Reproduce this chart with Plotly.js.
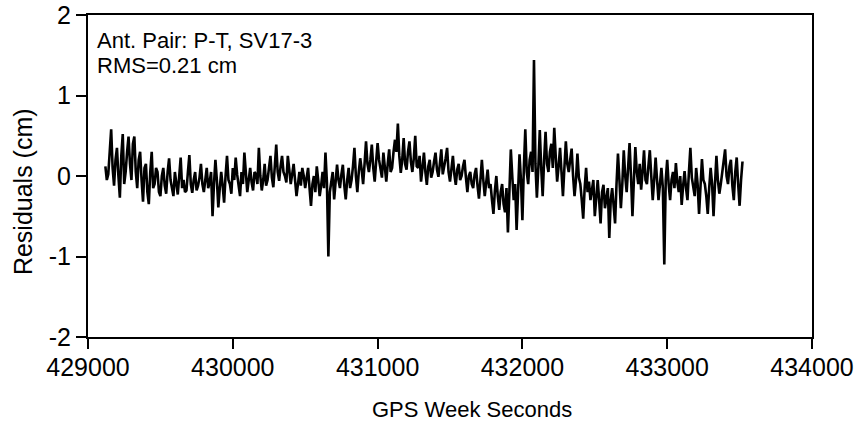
<!DOCTYPE html>
<html>
<head>
<meta charset="utf-8">
<script src="https://cdn.plot.ly/plotly-3.0.1.min.js"></script>
<style>html,body{margin:0;padding:0;background:#fff;}#chart{width:861px;height:436px;}</style>
</head>
<body>
<div id="chart"></div>
<script>
// GPS week seconds: first sample time and sample interval (s)
const T0 = 429120;
const DT = 10;
// Residuals (cm) (one row = 200 s)
const residuals = [
  0.12, -0.05, 0.02, 0.30, 0.58, 0.10, -0.12, 0.20, 0.35, 0.00, -0.27, 0.25, 0.52, -0.10, 0.05, 0.30, 0.49, 0.15, -0.05, 0.40,
  0.49, 0.05, -0.15, 0.20, 0.30, -0.05, -0.32, 0.10, 0.15, -0.20, -0.35, 0.05, 0.30, -0.15, -0.10, 0.10, 0.05, -0.20, -0.25, 0.00,
  0.10, -0.12, -0.22, 0.05, 0.22, -0.05, -0.15, -0.25, 0.05, -0.10, -0.23, 0.00, 0.23, -0.15, -0.05, -0.20, -0.18, 0.05, 0.26, -0.10,
  -0.21, -0.05, 0.05, -0.18, -0.12, -0.02, 0.15, -0.10, -0.20, -0.05, 0.10, -0.15, -0.08, 0.05, -0.50, -0.10, 0.20, -0.05, -0.39, -0.15,
  0.05, -0.12, -0.33, 0.00, 0.25, -0.05, -0.10, -0.22, 0.10, -0.05, 0.23, 0.02, -0.14, -0.25, 0.05, -0.10, 0.29, 0.00, -0.20, -0.05,
  0.10, -0.08, -0.18, 0.05, 0.02, -0.10, 0.35, 0.00, -0.18, -0.05, 0.15, -0.12, -0.05, 0.10, 0.25, -0.02, -0.14, 0.12, 0.39, 0.05,
  -0.06, 0.12, 0.25, 0.05, 0.00, -0.08, 0.25, 0.08, -0.10, 0.02, 0.15, -0.05, -0.25, -0.10, 0.05, -0.12, 0.10, 0.00, -0.15, -0.02,
  0.10, -0.15, -0.37, -0.10, 0.00, -0.20, 0.12, -0.05, -0.25, -0.12, 0.05, -0.15, 0.29, -0.08, -1.00, -0.20, -0.10, 0.05, -0.29, -0.10,
  0.14, -0.05, -0.15, 0.02, 0.14, -0.12, -0.29, -0.05, 0.10, -0.15, -0.05, 0.12, 0.35, 0.00, -0.20, 0.05, 0.22, 0.08, -0.10, 0.15,
  0.43, 0.15, 0.05, 0.20, 0.39, 0.10, -0.07, 0.18, 0.41, 0.20, 0.10, -0.02, 0.29, 0.12, -0.07, 0.15, 0.33, 0.05, 0.10, 0.30,
  0.45, 0.30, 0.65, 0.25, 0.04, 0.20, 0.47, 0.15, 0.08, 0.30, 0.43, 0.18, 0.05, 0.22, 0.50, 0.12, 0.10, 0.25, -0.07, 0.10,
  0.29, 0.05, -0.11, 0.12, 0.20, -0.02, 0.05, 0.18, 0.29, 0.08, -0.01, 0.15, 0.33, 0.02, 0.10, 0.22, 0.35, 0.05, -0.07, 0.10,
  0.25, 0.02, -0.11, 0.08, 0.15, -0.05, 0.00, 0.12, 0.20, -0.02, -0.20, 0.00, 0.05, -0.10, -0.15, 0.02, 0.10, -0.12, -0.28, -0.05,
  0.20, -0.05, -0.25, -0.08, 0.08, -0.15, -0.10, -0.30, -0.47, -0.18, 0.00, -0.25, -0.42, -0.20, -0.10, -0.35, -0.45, -0.15, -0.70, -0.20,
  0.33, 0.00, -0.30, -0.10, -0.67, -0.20, 0.27, -0.05, -0.55, 0.10, 0.58, 0.05, -0.10, 0.20, 0.30, 0.05, 1.44, 0.15, -0.27, 0.10,
  0.57, 0.10, -0.25, 0.20, 0.55, 0.15, 0.05, 0.30, 0.40, 0.10, 0.60, 0.25, -0.07, 0.12, 0.35, 0.05, -0.25, 0.10, 0.43, 0.15,
  0.05, 0.20, 0.34, 0.00, -0.25, -0.05, 0.28, -0.02, -0.10, -0.30, -0.53, -0.15, 0.10, -0.20, -0.07, -0.30, -0.20, -0.05, -0.50, -0.22,
  -0.05, -0.30, -0.59, -0.20, -0.11, -0.40, -0.30, -0.15, -0.77, -0.30, -0.15, -0.40, -0.59, -0.10, 0.28, -0.05, -0.40, -0.10, 0.32, 0.00,
  -0.20, 0.10, 0.41, 0.00, -0.50, -0.05, 0.36, 0.05, -0.10, 0.15, -0.17, 0.05, 0.32, -0.05, -0.10, 0.12, 0.32, 0.00, -0.30, -0.05,
  0.23, -0.05, -0.30, -0.10, 0.10, -0.15, -1.10, -0.05, 0.20, -0.10, -0.30, -0.05, 0.05, -0.15, 0.16, -0.08, -0.20, 0.00, -0.36, -0.12,
  0.06, -0.15, -0.30, 0.05, 0.35, -0.02, -0.15, -0.25, 0.10, -0.10, -0.47, -0.15, 0.21, -0.05, -0.10, -0.25, -0.47, -0.15, 0.10, -0.10,
  -0.50, -0.10, 0.25, -0.05, -0.22, -0.10, 0.05, 0.15, 0.33, 0.00, -0.10, 0.12, 0.20, -0.12, -0.30, 0.05, 0.23, -0.10, -0.37, -0.05,
  0.18
];
const xTicks = [429000, 430000, 431000, 432000, 433000, 434000];
const yTicks = [-2, -1, 0, 1, 2];
const labelLines = ["Ant. Pair: P-T, SV17-3", "RMS=0.21 cm"];
const xTitle = "GPS Week Seconds";
const yTitle = "Residuals (cm)";

const FONT = "Liberation Sans, Arial, sans-serif";
const trace = {
  type: "scatter",
  mode: "lines",
  x0: T0,
  dx: DT,
  y: residuals,
  line: {color: "#000", width: 2.6},
  hoverinfo: "skip"
};
const axisCommon = {
  showline: true, mirror: true, linecolor: "#000", linewidth: 2,
  ticks: "outside", ticklen: 10, tickwidth: 2, tickcolor: "#000",
  showgrid: false, zeroline: false,
  tickfont: {family: FONT, size: 25, color: "#000"}
};
const layout = {
  width: 861, height: 436,
  margin: {l: 88, r: 49, t: 15, b: 99, pad: 0},
  paper_bgcolor: "#fff", plot_bgcolor: "#fff",
  showlegend: false,
  font: {family: FONT, color: "#000"},
  xaxis: Object.assign({}, axisCommon, {
    range: [429000, 434000], tickvals: xTicks, ticktext: xTicks.map(String),
    ticklabelstandoff: -3
  }),
  yaxis: Object.assign({}, axisCommon, {
    range: [-2, 2], tickvals: yTicks, ticktext: yTicks.map(String)
  }),
  annotations: [
    {
      xref: "paper", yref: "paper", x: 0.0, y: 0.922, xanchor: "left", yanchor: "middle",
      xshift: 7, text: labelLines[0], showarrow: false,
      font: {family: FONT, size: 22, color: "#000"}
    },
    {
      xref: "paper", yref: "paper", x: 0.0, y: 0.843, xanchor: "left", yanchor: "middle",
      xshift: 7, text: labelLines[1], showarrow: false,
      font: {family: FONT, size: 22, color: "#000"}
    },
    {
      xref: "paper", yref: "paper", x: 0.53, y: -0.225, xanchor: "center", yanchor: "middle",
      text: xTitle, showarrow: false,
      font: {family: FONT, size: 22, color: "#000"}
    },
    {
      xref: "paper", yref: "paper", x: 0, y: 0.45, xanchor: "center", yanchor: "middle",
      xshift: -65, textangle: -90,
      text: yTitle, showarrow: false,
      font: {family: FONT, size: 25, color: "#000"}
    }
  ]
};
Plotly.newPlot("chart", [trace], layout, {staticPlot: true, displayModeBar: false});
</script>
</body>
</html>
